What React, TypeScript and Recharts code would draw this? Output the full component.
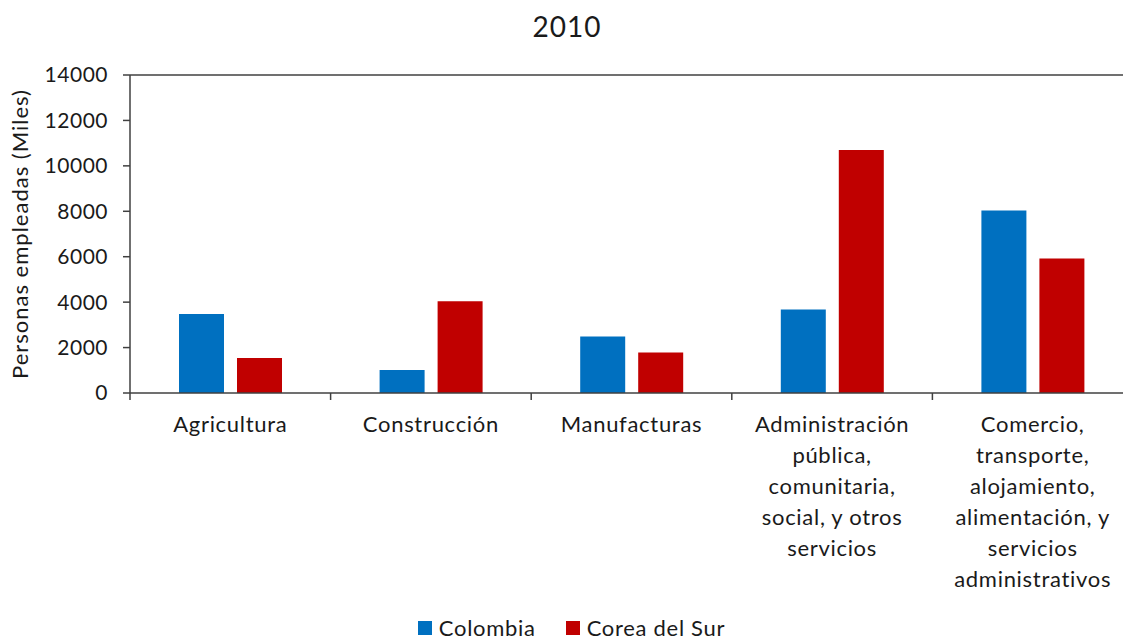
import { BarChart, Bar, XAxis, YAxis, Legend, ReferenceLine } from "recharts";

// Personas empleadas por sector, 2010 (miles)

const categorias = [
  "Agricultura",
  "Construcción",
  "Manufacturas",
  "Administración\npública,\ncomunitaria,\nsocial, y otros\nservicios",
  "Comercio,\ntransporte,\nalojamiento,\nalimentación, y\nservicios\nadministrativos",
];
const colombia = [3480, 1010, 2490, 3680, 8040];
const coreaDelSur = [1540, 4040, 1780, 10700, 5920];
const ticksY = [0, 2000, 4000, 6000, 8000, 10000, 12000, 14000];

const FONT = "Lato, 'Open Sans', sans-serif";
const EJE = "#404040";
const TEXTO = "#1a1a1a";
const AZUL = "#0070C0";
const ROJO = "#C00000";

const datos = categorias.map((c, i) => ({
  sector: c,
  colombia: colombia[i],
  corea: coreaDelSur[i],
}));

// etiqueta multilínea + marcas en los límites de cada categoría
function TickSector(props: any) {
  const { x, y, payload, index, visibleTicksCount } = props;
  const medio = payload.offset ?? 0;
  const lineas = String(payload.value).split("\n");
  const ultimo = index === (visibleTicksCount ?? categorias.length) - 1;
  return (
    <g>
      <line x1={x - medio} x2={x - medio} y1={y} y2={y + 7} stroke={EJE} strokeWidth={1.5} />
      {ultimo && <line x1={x + medio} x2={x + medio} y1={y} y2={y + 7} stroke={EJE} strokeWidth={1.5} />}
      <text x={x} y={y} textAnchor="middle" fontSize={22} letterSpacing={0.7} fill={TEXTO} fontFamily={FONT}>
        {lineas.map((l, i) => (
          <tspan key={i} x={x} dy={i === 0 ? 39 : 31}>
            {l}
          </tspan>
        ))}
      </text>
    </g>
  );
}

function Leyenda() {
  const items = [
    { nombre: "Colombia", color: AZUL },
    { nombre: "Corea del Sur", color: ROJO },
  ];
  return (
    <div
      style={{
        display: "flex",
        justifyContent: "center",
        gap: 30,
        marginLeft: 10,
        fontFamily: FONT,
        fontSize: 22,
        letterSpacing: 0.7,
        color: TEXTO,
        lineHeight: "24px",
      }}
    >
      {items.map((it) => (
        <span key={it.nombre} style={{ display: "flex", alignItems: "center" }}>
          <span style={{ display: "inline-block", width: 14, height: 14, background: it.color, marginRight: 7 }} />
          {it.nombre}
        </span>
      ))}
    </div>
  );
}

export default function App() {
  return (
    <div style={{ position: "absolute", left: 0, top: 0, width: 1123, height: 641, overflow: "hidden", background: "#fff" }}>
      <div
        style={{
          position: "absolute",
          left: 567,
          top: 9,
          transform: "translateX(-50%)",
          fontFamily: FONT,
          fontSize: 28,
          letterSpacing: 1,
          color: TEXTO,
        }}
      >
        2010
      </div>
      <BarChart
        width={1140}
        height={641}
        data={datos}
        margin={{ top: 75, right: 7, left: 0, bottom: 1 }}
        barGap={13}
        barSize={45}
      >
        <XAxis
          dataKey="sector"
          height={223}
          interval={0}
          tick={<TickSector />}
          tickLine={false}
          tickSize={0}
          tickMargin={0}
          axisLine={{ stroke: EJE, strokeWidth: 1.5 }}
        />
        <YAxis
          width={130}
          domain={[0, 14000]}
          ticks={ticksY}
          interval={0}
          tick={{ fontSize: 21, fill: TEXTO, fontFamily: FONT, letterSpacing: 0.5 }}
          tickLine={{ stroke: EJE, strokeWidth: 1.5 }}
          tickSize={7}
          tickMargin={15}
          axisLine={{ stroke: EJE, strokeWidth: 1.5 }}
          label={{
            value: "Personas empleadas (Miles)",
            angle: -90,
            position: "insideLeft",
            offset: 20,
            style: { textAnchor: "middle", fontSize: 22, letterSpacing: 1, fill: TEXTO, fontFamily: FONT },
          }}
        />
        <ReferenceLine y={14000} stroke={EJE} strokeWidth={1.5} ifOverflow="extendDomain" />
        <Legend verticalAlign="bottom" content={<Leyenda />} />
        <Bar dataKey="colombia" name="Colombia" fill={AZUL} isAnimationActive={false} />
        <Bar dataKey="corea" name="Corea del Sur" fill={ROJO} isAnimationActive={false} />
      </BarChart>
    </div>
  );
}
